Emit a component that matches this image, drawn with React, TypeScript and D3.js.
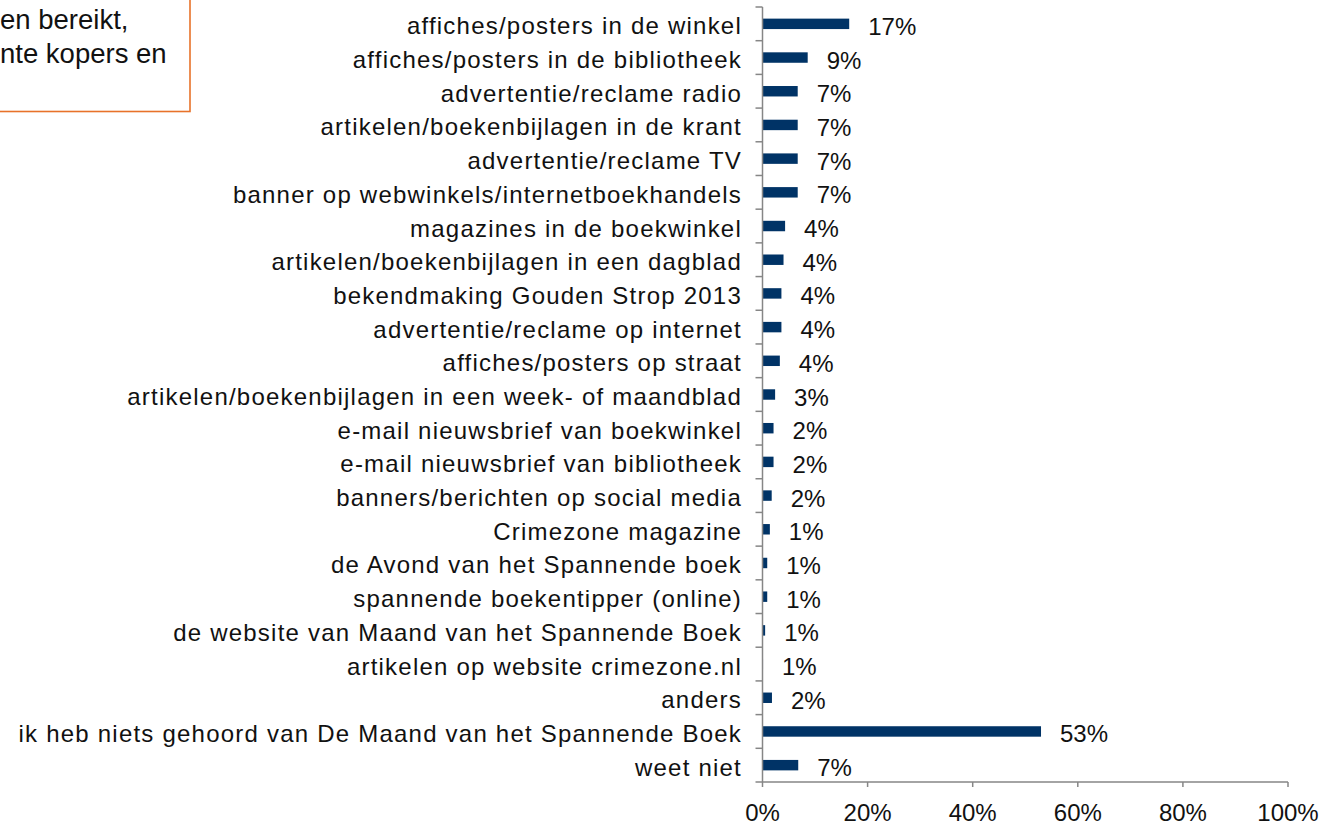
import React from "react";
import { scaleLinear, scaleBand } from "d3";

const categories = [
  "affiches/posters in de winkel",
  "affiches/posters in de bibliotheek",
  "advertentie/reclame radio",
  "artikelen/boekenbijlagen in de krant",
  "advertentie/reclame TV",
  "banner op webwinkels/internetboekhandels",
  "magazines in de boekwinkel",
  "artikelen/boekenbijlagen in een dagblad",
  "bekendmaking Gouden Strop 2013",
  "advertentie/reclame op internet",
  "affiches/posters op straat",
  "artikelen/boekenbijlagen in een week- of maandblad",
  "e-mail nieuwsbrief van boekwinkel",
  "e-mail nieuwsbrief van bibliotheek",
  "banners/berichten op social media",
  "Crimezone magazine",
  "de Avond van het Spannende boek",
  "spannende boekentipper (online)",
  "de website van Maand van het Spannende Boek",
  "artikelen op website crimezone.nl",
  "anders",
  "ik heb niets gehoord van De Maand van het Spannende Boek",
  "weet niet",
];

// share of respondents (%)
const values = [
  16.5, 8.6, 6.7, 6.7, 6.7, 6.7, 4.3, 4.0, 3.6, 3.6, 3.3, 2.4, 2.1, 2.1, 1.75,
  1.4, 0.9, 0.9, 0.5, 0.1, 1.8, 53, 6.8,
];

const valueLabels = [
  "17%", "9%", "7%", "7%", "7%", "7%", "4%", "4%", "4%", "4%", "4%", "3%",
  "2%", "2%", "2%", "1%", "1%", "1%", "1%", "1%", "2%", "53%", "7%",
];

const xTicks = [0, 20, 40, 60, 80, 100];

const noteLines = ["en bereikt,", "nte kopers en"];

const FONT = "'Liberation Sans', Arial, sans-serif";

export default function App() {
  const width = 1323;
  const height = 826;
  const margin = { top: 7, left: 762.5, right: 35, bottom: 44 };

  const x = scaleLinear()
    .domain([0, 100])
    .range([margin.left, width - margin.right]);

  const y = scaleBand<string>()
    .domain(categories)
    .range([margin.top, height - margin.bottom])
    .paddingInner(0.69)
    .paddingOuter(0.345);

  const step = y.step();
  const axisColor = "#868686";

  return (
    <svg
      width={width}
      height={height}
      style={{ position: "absolute", left: 0, top: 0, background: "#fff" }}
      fontFamily={FONT}
    >
      {/* note box cut off at the left edge */}
      <rect
        x={-20}
        y={-20}
        width={210}
        height={131.5}
        fill="#fff"
        stroke="#E8722A"
        strokeWidth={1.6}
      />
      {noteLines.map((t, i) => (
        <text key={i} x={0} y={28.5 + i * 34.5} fontSize={27.5} fill="#111">
          {t}
        </text>
      ))}

      {/* bars */}
      {categories.map((c, i) => (
        <rect
          key={c}
          x={x(0)}
          y={y(c)}
          width={x(values[i]) - x(0)}
          height={y.bandwidth()}
          fill="#003366"
        />
      ))}

      {/* value labels */}
      {categories.map((c, i) => (
        <text
          key={c}
          x={x(values[i]) + 19}
          y={(y(c) ?? 0) + y.bandwidth() / 2 + 11}
          fontSize={24}
          fill="#111"
        >
          {valueLabels[i]}
        </text>
      ))}

      {/* category labels */}
      {categories.map((c) => (
        <text
          key={c}
          x={742}
          y={(y(c) ?? 0) + y.bandwidth() / 2 + 10.5}
          fontSize={24}
          letterSpacing={1.22}
          textAnchor="end"
          fill="#111"
        >
          {c}
        </text>
      ))}

      {/* y axis */}
      <line
        x1={x(0)}
        x2={x(0)}
        y1={margin.top}
        y2={height - margin.bottom}
        stroke={axisColor}
        strokeWidth={1.5}
      />
      {categories.concat([""]).map((_, i) => (
        <line
          key={i}
          x1={x(0) - 7}
          x2={x(0)}
          y1={margin.top + i * step}
          y2={margin.top + i * step}
          stroke={axisColor}
          strokeWidth={1.5}
        />
      ))}

      {/* x axis */}
      <line
        x1={x(0)}
        x2={x(100)}
        y1={height - margin.bottom}
        y2={height - margin.bottom}
        stroke={axisColor}
        strokeWidth={1.5}
      />
      {xTicks.map((t) => (
        <g key={t} transform={`translate(${x(t)},${height - margin.bottom})`}>
          <line y1={0} y2={5} stroke={axisColor} strokeWidth={1.5} />
          <text y={39} textAnchor="middle" fontSize={24} fill="#111">
            {t}%
          </text>
        </g>
      ))}
    </svg>
  );
}
